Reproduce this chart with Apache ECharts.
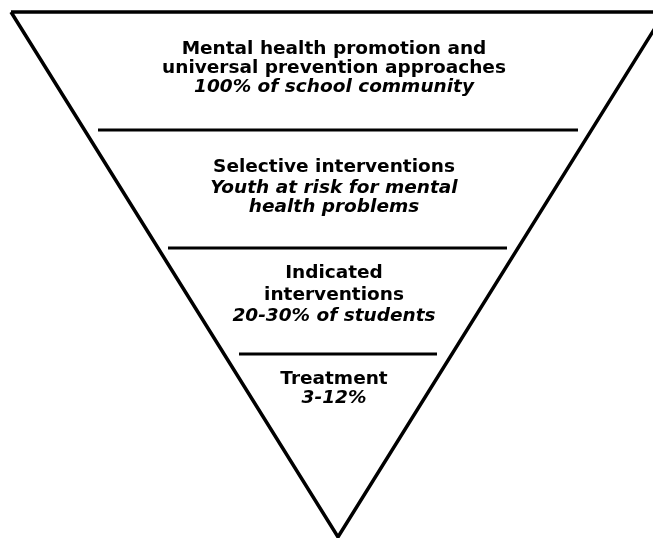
<!DOCTYPE html>
<html>
<head>
<meta charset="utf-8">
<script src="https://cdn.jsdelivr.net/npm/echarts@6/dist/echarts.min.js"></script>
<style>html,body{margin:0;padding:0;background:#fff}#c{width:653px;height:538px}</style>
</head>
<body>
<div id="c"></div>
<script>
// Diagram coordinates (pixel-like units on hidden value axes)
const triangleX = [11, 665, 338, 11];
const triangleY = [12, 12, 537, 12];
const dividerY = [130, 248, 354];
const dividerX0 = [98, 168, 239];
const dividerX1 = [578, 507, 437];
const centerX = 334;
const boldLines = ["Mental health promotion and", "universal prevention approaches", "Selective interventions", "Indicated", "interventions", "Treatment"];
const boldY = [49, 68, 167, 273, 295, 379];
const italicLines = ["100% of school community", "Youth at risk for mental", "health problems", "20-30% of students", "3-12%"];
const italicY = [87, 188, 207, 316, 398];

const chart = echarts.init(document.getElementById('c'), null, {renderer: 'canvas'});
const series = [];
series.push({
  type: 'line', data: triangleX.map((x, i) => [x, triangleY[i]]),
  symbol: 'none', clip: true, lineStyle: {color: '#000', width: 3.5, join: 'miter'}, z: 2
});
dividerY.forEach((y, i) => {
  series.push({
    type: 'line', data: [[dividerX0[i], y], [dividerX1[i], y]],
    symbol: 'none', lineStyle: {color: '#000', width: 3}, z: 2
  });
});
const textSeries = (lines, ys, style) => ({
  type: 'scatter', symbolSize: 1, itemStyle: {color: 'rgba(0,0,0,0)'},
  data: lines.map((t, i) => [centerX, ys[i], t]),
  label: Object.assign({
    show: true, position: 'inside', color: '#000', opacity: 1,
    textBorderWidth: 0, textShadowBlur: 0,
    fontFamily: 'DejaVu Sans',
    formatter: p => p.data[2]
  }, style), z: 3
});
series.push(textSeries(boldLines, boldY, {fontWeight: 'bold', fontStyle: 'normal', fontSize: 18.5}));
series.push(textSeries(italicLines, italicY, {fontWeight: 'bold', fontStyle: 'italic', fontSize: 18.5}));

chart.setOption({
  animation: false,
  backgroundColor: '#fff',
  grid: {left: 0, right: 0, top: 0, bottom: 0},
  xAxis: {type: 'value', min: 0, max: 653, show: false},
  yAxis: {type: 'value', min: 0, max: 538, inverse: true, show: false},
  series: series
});
</script>
</body>
</html>
